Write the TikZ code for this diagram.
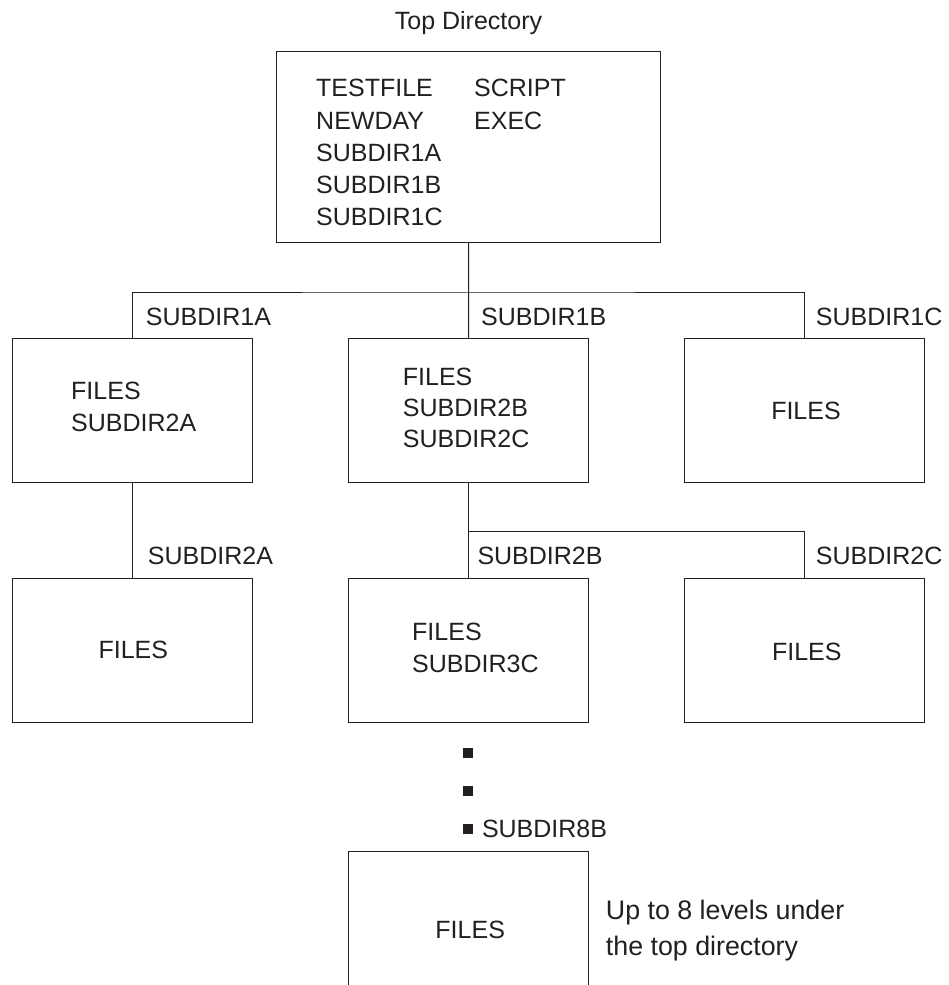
\documentclass[tikz,border=0pt]{standalone}
\usepackage{fontspec}
\setmainfont{Liberation Sans}
\definecolor{ink}{RGB}{35,31,32}
\begin{document}
\begin{tikzpicture}[x=1pt,y=-1pt,
  box/.style={draw=ink,line width=1.1pt,inner sep=0pt,minimum width=240pt,minimum height=144pt},
  txt/.style={inner sep=0pt,anchor=base west,text=ink,font=\fontsize{25}{30}\selectfont},
  ctxt/.style={txt,anchor=base},
  notetxt/.style={txt,font=\fontsize{26.8}{32}\selectfont},
  conn/.style={draw=ink,line width=1pt},
  sq/.style={fill=ink,inner sep=0pt,minimum size=10pt}]
\useasboundingbox (0,0) rectangle (949,985);
% boxes
\node[box,minimum width=384pt,minimum height=191pt] (top) at (468.7,146.7) {};
\node[box] (b1) at (132.5,410.8) {};
\node[box] (b2) at (468.5,410.8) {};
\node[box] (b3) at (804.5,410.8) {};
\node[box] (b4) at (132.5,650.8) {};
\node[box] (b5) at (468.5,650.8) {};
\node[box] (b6) at (804.5,650.8) {};
\node[inner sep=0pt,minimum width=240pt,minimum height=133pt] (b7) at (468.5,918.5) {};
\draw[conn,line width=1.1pt] (b7.south west) |- (b7.north) -| (b7.south east);
% connectors
\coordinate (bus1) at (468.5,292);
\coordinate (bus2) at (468.5,531);
\draw[conn] (top.south) -- (b2.north);
\draw[conn] (b1.north) |- (bus1) -| (b3.north);
\draw[conn] (b1.south) -- (b4.north);
\draw[conn] (b2.south) -- (b5.north);
\draw[conn] (bus2) -| (b6.north);
% dots
\node[sq] (d1) at (468,753) {};
\node[sq] (d2) at (468,790.5) {};
\node[sq] (d3) at (468,829.3) {};
% title
\node[ctxt] (title) at (468.5,29.5) {Top Directory};
% top box contents
\node[txt] (t1) at (316,96.7) {TESTFILE};
\node[txt] (t2) at (316,129) {NEWDAY};
\node[txt] (t3) at (316,161.3) {SUBDIR1A};
\node[txt] (t4) at (316,193.3) {SUBDIR1B};
\node[txt] (t5) at (316,225.3) {SUBDIR1C};
\node[txt] (t6) at (474,96.7) {SCRIPT};
\node[txt] (t7) at (474,129) {EXEC};
% box contents
\node[txt] (c1a) at (71,399) {FILES};
\node[txt] (c1b) at (71,431) {SUBDIR2A};
\node[txt] (c2a) at (402.7,385) {FILES};
\node[txt] (c2b) at (402.7,416.7) {SUBDIR2B};
\node[txt] (c2c) at (402.7,447.3) {SUBDIR2C};
\node[ctxt] (c3) at (806,419) {FILES};
\node[ctxt] (c4) at (133.3,658.3) {FILES};
\node[txt] (c5a) at (412,640.7) {FILES};
\node[txt] (c5b) at (412,672.3) {SUBDIR3C};
\node[ctxt] (c6) at (806.8,660.7) {FILES};
\node[ctxt] (c7) at (470.2,938.6) {FILES};
% connector labels
\node[txt] (l1a) at (145.7,325.7) {SUBDIR1A};
\node[txt] (l1b) at (481,325.7) {SUBDIR1B};
\node[txt] (l1c) at (815.7,325.7) {SUBDIR1C};
\node[txt] (l2a) at (147.7,564) {SUBDIR2A};
\node[txt] (l2b) at (477.3,564) {SUBDIR2B};
\node[txt] (l2c) at (815.7,564) {SUBDIR2C};
\node[txt] (l8b) at (481.8,837.1) {SUBDIR8B};
% note
\node[notetxt] (n1) at (605.7,919) {Up to 8 levels under};
\node[notetxt] (n2) at (605.7,955.7) {the top directory};
\end{tikzpicture}
\end{document}
